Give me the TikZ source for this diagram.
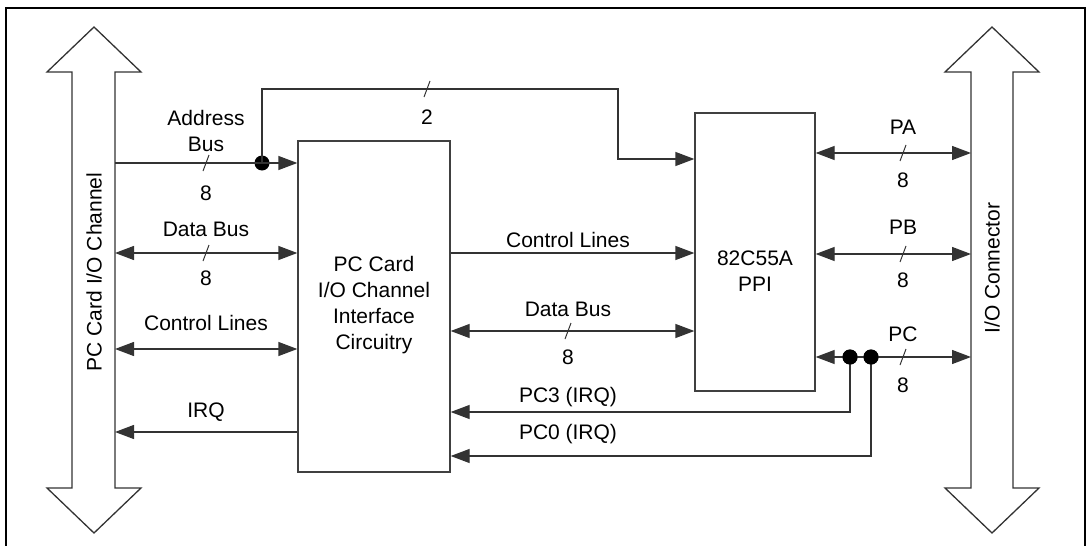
\documentclass[tikz,border=0pt]{standalone}
\usepackage{fontspec}
\setmainfont{Liberation Sans}
\usetikzlibrary{arrows.meta,positioning}

\begin{document}
\begin{tikzpicture}[x=1pt,y=-1pt,
  every node/.style={font=\fontsize{21}{26}\selectfont},
  wire/.style={line width=1.3pt,draw=black!80},
  to/.style={wire,-{Triangle[length=19pt,width=14pt]}},
  both/.style={wire,{Triangle[length=19pt,width=14pt]}-{Triangle[length=19pt,width=14pt]}},
  block/.style={draw=black!75,line width=1.3pt,inner sep=0pt},
  hollow/.style={draw=black!80,line width=1.3pt,fill=white,line join=miter},
  dot/.style={circle,fill=black,inner sep=0pt,minimum size=15pt},
  slash/.pic={\draw[line width=1pt,black!80] (-3,8) -- (3,-8);}
]
\useasboundingbox (0,0) rectangle (1087,546);
\draw[line width=2pt] (6,546) -- (6,8) -- (1085,8) -- (1085,546);

\draw[hollow] (94,27) -- (141,72) -- (115,72) -- (115,488) -- (141,488) -- (94,533)
  -- (47,488) -- (72,488) -- (72,72) -- (47,72) -- cycle;
\draw[hollow] (992,27) -- (1039,72) -- (1013,72) -- (1013,488) -- (1039,488) -- (992,533)
  -- (945,488) -- (971,488) -- (971,72) -- (945,72) -- cycle;
\node[rotate=90] (pcbus) at (94,272) {PC Card I/O Channel};
\node[rotate=90] (ioconn) at (992,268) {I/O Connector};
\coordinate (lbus) at (115,0);
\coordinate (rbus) at (971,0);

\node[block,minimum width=152pt,minimum height=331pt] (iface) at (374,306.5) {};
\node[align=center] (ifacetxt) at (374,305) {PC Card\\I/O Channel\\Interface\\Circuitry};
\node[block,minimum width=120pt,minimum height=278pt] (ppi) at (755,252) {};
\node[align=center] (ppitxt) at (755,271) {82C55A\\PPI};

\node[dot] (abdot) at (262,163) {};
\node[dot] (pc3dot) at (850,357) {};
\node[dot] (pc0dot) at (871,357) {};

\draw[to] (lbus |- 0,163) -- (iface.west |- 0,163);
\draw[to] (abdot.center) |- (618,89) -- (618,159) -- (ppi.west |- 0,159);
\pic at (206,163) {slash};
\pic at (427,89) {slash};
\node[align=center] (abl) at (206,131) {Address\\Bus};
\node (abn) at (206,193) {8};
\node (twon) at (427,117) {2};

\draw[both] (lbus |- 0,253) -- (iface.west |- 0,253);
\pic at (206,253) {slash};
\node (dbl) at (206,229) {Data Bus};
\node (dbn) at (206,278) {8};

\draw[both] (lbus |- 0,349) -- (iface.west |- 0,349);
\node (cll) at (206,323) {Control Lines};

\draw[to] (iface.west |- 0,432) -- (lbus |- 0,432);
\node (irql) at (206,412) {IRQ};

\draw[to] (iface.east |- 0,253) -- (ppi.west |- 0,253);
\node (cl2) at (568,240) {Control Lines};

\draw[both] (iface.east |- 0,331) -- (ppi.west |- 0,331);
\pic at (568,331) {slash};
\node (db2) at (568,309) {Data Bus};
\node (db2n) at (568,357) {8};

\draw[to] (pc3dot.center) |- (iface.east |- 0,412);
\node (pc3l) at (568,397) {PC3 (IRQ)};
\draw[to] (pc0dot.center) |- (iface.east |- 0,456);
\node (pc0l) at (568,434) {PC0 (IRQ)};

\draw[both] (ppi.east |- 0,153) -- (rbus |- 0,153);
\pic at (903,153) {slash};
\node (pal) at (903,127) {PA};
\node (pan) at (903,180) {8};

\draw[both] (ppi.east |- 0,254) -- (rbus |- 0,254);
\pic at (903,254) {slash};
\node (pbl) at (903,227) {PB};
\node (pbn) at (903,280) {8};

\draw[both] (ppi.east |- 0,357) -- (rbus |- 0,357);
\pic at (903,357) {slash};
\node (pcl) at (903,334) {PC};
\node (pcn) at (903,385) {8};
\node[dot] at (pc3dot) {};
\node[dot] at (pc0dot) {};
\end{tikzpicture}
\end{document}
